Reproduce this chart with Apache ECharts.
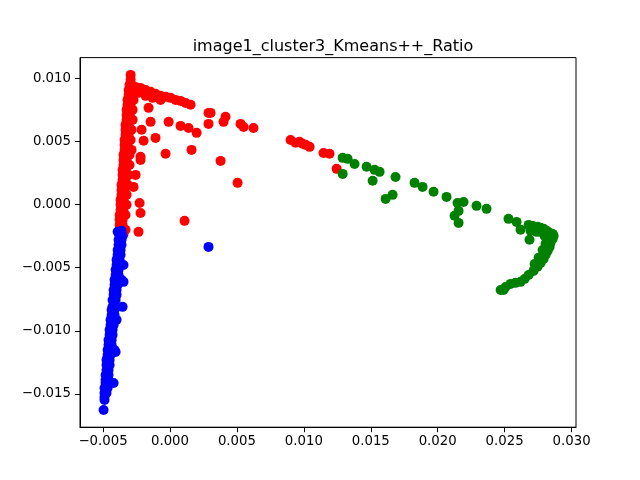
<!DOCTYPE html>
<html>
<head>
<meta charset="utf-8">
<script src="https://cdn.jsdelivr.net/npm/echarts@6/dist/echarts.min.js"></script>
<style>
  html, body { margin: 0; padding: 0; background: #fff; }
  #chart { width: 640px; height: 480px; }
</style>
</head>
<body>
<div id="chart"></div>
<script>
var chartTitle = 'image1_cluster3_Kmeans++_Ratio';

var xTicks = [-0.005, 0.000, 0.005, 0.010, 0.015, 0.020, 0.025, 0.030];
var yTicks = [-0.015, -0.010, -0.005, 0.000, 0.005, 0.010];

// cluster 0 (red)
var redPoints = [
    [-0.00294, 0.01027], [-0.00294, 0.00988], [-0.00302, 0.00948], [-0.00287, 0.00948],
    [-0.00309, 0.00908], [-0.00287, 0.00908], [-0.00264, 0.00908], [-0.00309, 0.00869],
    [-0.00287, 0.00869], [-0.00317, 0.00829], [-0.00294, 0.00829], [-0.00272, 0.00829],
    [-0.00317, 0.00790], [-0.00294, 0.00790], [-0.00324, 0.00750], [-0.00302, 0.00750],
    [-0.00279, 0.00750], [-0.00324, 0.00710], [-0.00302, 0.00710], [-0.00324, 0.00671],
    [-0.00302, 0.00671], [-0.00279, 0.00671], [-0.00332, 0.00631], [-0.00309, 0.00631],
    [-0.00332, 0.00592], [-0.00309, 0.00592], [-0.00287, 0.00592], [-0.00332, 0.00552],
    [-0.00309, 0.00552], [-0.00339, 0.00512], [-0.00317, 0.00512], [-0.00294, 0.00512],
    [-0.00339, 0.00473], [-0.00317, 0.00473], [-0.00339, 0.00433], [-0.00317, 0.00433],
    [-0.00287, 0.00433], [-0.00347, 0.00394], [-0.00324, 0.00394], [-0.00302, 0.00394],
    [-0.00347, 0.00354], [-0.00324, 0.00354], [-0.00347, 0.00314], [-0.00324, 0.00314],
    [-0.00302, 0.00314], [-0.00354, 0.00275], [-0.00332, 0.00275], [-0.00354, 0.00235],
    [-0.00332, 0.00235], [-0.00309, 0.00235], [-0.00354, 0.00196], [-0.00332, 0.00196],
    [-0.00362, 0.00156], [-0.00339, 0.00156], [-0.00317, 0.00156], [-0.00362, 0.00116],
    [-0.00339, 0.00116], [-0.00362, 0.00077], [-0.00339, 0.00077], [-0.00324, 0.00077],
    [-0.00369, 0.00037], [-0.00347, 0.00037], [-0.00369, -0.00002], [-0.00347, -0.00002],
    [-0.00324, -0.00002], [-0.00369, -0.00042], [-0.00347, -0.00042], [-0.00376, -0.00082],
    [-0.00354, -0.00082], [-0.00332, -0.00082], [-0.00376, -0.00121], [-0.00354, -0.00121],
    [-0.00376, -0.00161], [-0.00354, -0.00161], [-0.00376, -0.00200], [-0.00354, -0.00200],
    [-0.00332, -0.00200], [-0.00369, -0.00232], [-0.00347, -0.00232],
    // bumps on the right side of the column
    [-0.00220, 0.00378], [-0.00257, 0.00235], [-0.00227, 0.00013], [-0.00220, -0.00066],
    [-0.00235, -0.00216], [-0.00272, 0.00140], [-0.00220, 0.00354], [-0.00212, 0.00592],
    [-0.00197, 0.00505],
    // band going right from the top
    [-0.00257, 0.00932], [-0.00220, 0.00924], [-0.00182, 0.00908], [-0.00145, 0.00893],
    [-0.00108, 0.00877], [-0.00070, 0.00861], [-0.00033, 0.00853], [0.00004, 0.00845],
    [0.00042, 0.00829], [0.00079, 0.00821], [0.00117, 0.00805], [0.00154, 0.00790],
    [-0.00235, 0.00885], [-0.00182, 0.00861], [-0.00130, 0.00845], [-0.00070, 0.00829],
    // scattered
    [-0.00160, 0.00766], [-0.00145, 0.00655], [-0.00010, 0.00655], [0.00079, 0.00623],
    [0.00139, 0.00607], [0.00199, 0.00568], [0.00288, 0.00726], [0.00303, 0.00726],
    [0.00288, 0.00639], [0.00415, 0.00695], [0.00400, 0.00655], [0.00527, 0.00639],
    [0.00550, 0.00615], [0.00624, 0.00607], [-0.00108, 0.00528], [-0.00033, 0.00402],
    [0.00161, 0.00433], [0.00378, 0.00346], [0.00505, 0.00172], [0.00109, -0.00129],
    // far group
    [0.00901, 0.00512], [0.00938, 0.00489], [0.00968, 0.00497], [0.00991, 0.00481],
    [0.01013, 0.00473], [0.01043, 0.00457], [0.01147, 0.00409], [0.01192, 0.00402],
    [0.01245, 0.00283]
];

// cluster 1 (green)
var greenPoints = [
    [0.01290, 0.00370], [0.01327, 0.00362], [0.01379, 0.00322], [0.01469, 0.00299],
    [0.01529, 0.00275], [0.01566, 0.00259], [0.01290, 0.00243], [0.01514, 0.00188],
    [0.01685, 0.00219], [0.01611, 0.00045], [0.01663, 0.00077], [0.01827, 0.00172],
    [0.01887, 0.00140], [0.01969, 0.00101], [0.02066, 0.00061], [0.02148, 0.00013],
    [0.02193, 0.00021], [0.02156, -0.00050], [0.02126, -0.00089], [0.02156, -0.00145],
    [0.02290, -0.00010], [0.02365, -0.00034], [0.02529, -0.00113], [0.02589, -0.00137],
    [0.02619, -0.00200], [0.02686, -0.00279], [0.02679, -0.00161],
    [0.02709, -0.00168], [0.02746, -0.00176], [0.02769, -0.00184], [0.02791, -0.00192],
    [0.02814, -0.00208], [0.02836, -0.00224], [0.02858, -0.00232], [0.02866, -0.00248],
    [0.02858, -0.00272], [0.02843, -0.00303], [0.02836, -0.00335], [0.02821, -0.00367],
    [0.02806, -0.00398], [0.02791, -0.00430], [0.02769, -0.00462], [0.02746, -0.00493],
    [0.02716, -0.00525], [0.02679, -0.00557], [0.02649, -0.00589], [0.02619, -0.00612],
    [0.02581, -0.00620], [0.02544, -0.00628], [0.02507, -0.00652], [0.02470, -0.00676],
    [0.02492, -0.00676], [0.02799, -0.00248], [0.02769, -0.00216], [0.02806, -0.00311],
    [0.02784, -0.00359], [0.02754, -0.00422], [0.02724, -0.00470], [0.02739, -0.00216],
    [0.02694, -0.00208]
];

// cluster 2 (blue)
var bluePoints = [
    [-0.00391, -0.00216], [-0.00362, -0.00208],
    [-0.00376, -0.00248], [-0.00354, -0.00248], [-0.00384, -0.00279], [-0.00362, -0.00279],
    [-0.00384, -0.00319], [-0.00362, -0.00319], [-0.00391, -0.00359], [-0.00369, -0.00359],
    [-0.00391, -0.00398], [-0.00369, -0.00398], [-0.00399, -0.00438], [-0.00376, -0.00438],
    [-0.00399, -0.00478], [-0.00376, -0.00478], [-0.00347, -0.00478], [-0.00406, -0.00517],
    [-0.00384, -0.00517], [-0.00406, -0.00557], [-0.00384, -0.00557], [-0.00414, -0.00596],
    [-0.00391, -0.00596], [-0.00362, -0.00596], [-0.00347, -0.00612], [-0.00414, -0.00636],
    [-0.00391, -0.00636], [-0.00421, -0.00676], [-0.00399, -0.00676], [-0.00421, -0.00715],
    [-0.00399, -0.00715], [-0.00429, -0.00755], [-0.00406, -0.00755], [-0.00429, -0.00810],
    [-0.00406, -0.00810], [-0.00354, -0.00810], [-0.00436, -0.00834], [-0.00414, -0.00834],
    [-0.00436, -0.00874], [-0.00414, -0.00874], [-0.00444, -0.00913], [-0.00421, -0.00913],
    [-0.00399, -0.00913], [-0.00444, -0.00953], [-0.00421, -0.00953], [-0.00451, -0.00992],
    [-0.00429, -0.00992], [-0.00451, -0.01032], [-0.00429, -0.01032], [-0.00459, -0.01072],
    [-0.00436, -0.01072], [-0.00459, -0.01111], [-0.00436, -0.01111], [-0.00466, -0.01151],
    [-0.00444, -0.01151], [-0.00414, -0.01151], [-0.00406, -0.01167], [-0.00466, -0.01191],
    [-0.00444, -0.01191], [-0.00474, -0.01230], [-0.00451, -0.01230], [-0.00474, -0.01270],
    [-0.00451, -0.01270], [-0.00474, -0.01310], [-0.00459, -0.01310], [-0.00481, -0.01349],
    [-0.00459, -0.01349], [-0.00481, -0.01389], [-0.00459, -0.01389], [-0.00481, -0.01413],
    [-0.00459, -0.01413], [-0.00421, -0.01413], [-0.00489, -0.01452], [-0.00466, -0.01452],
    [-0.00489, -0.01492], [-0.00474, -0.01492], [-0.00489, -0.01523], [-0.00489, -0.01547],
    [-0.00496, -0.01626],
    // the lone one
    [0.00288, -0.00335]
];

function tickText(v) {
    return v.toFixed(3).replace('-', '\u2212');
}

var font = 'DejaVu Sans';

var option = {
    backgroundColor: '#ffffff',
    animation: false,
    title: {
        text: chartTitle,
        left: 328,
        top: 34,
        textAlign: 'center',
        textStyle: {
            fontFamily: font,
            fontSize: 16,
            fontWeight: 'normal',
            color: '#000'
        }
    },
    grid: {
        left: 80,
        right: 64,
        top: 57.6,
        bottom: 52.8,
        show: true,
        borderColor: '#000',
        borderWidth: 1,
        backgroundColor: '#fff'
    },
    xAxis: {
        type: 'value',
        min: -0.006722,
        max: 0.030332,
        splitLine: { show: false },
        axisLine: { show: true, onZero: false, lineStyle: { color: '#000', width: 1 } },
        axisTick: { show: true, inside: false, length: 5, customValues: xTicks, lineStyle: { color: '#000' } },
        axisLabel: {
            customValues: xTicks,
            formatter: tickText,
            margin: 8,
            fontFamily: font,
            fontSize: 13.3,
            color: '#000'
        }
    },
    yAxis: {
        type: 'value',
        min: -0.017629,
        max: 0.011639,
        splitLine: { show: false },
        axisLine: { show: true, onZero: false, lineStyle: { color: '#000', width: 1 } },
        axisTick: { show: true, inside: false, length: 5, customValues: yTicks, lineStyle: { color: '#000' } },
        axisLabel: {
            customValues: yTicks,
            formatter: tickText,
            margin: 9,
            fontFamily: font,
            fontSize: 13.3,
            color: '#000'
        }
    },
    series: [
        { type: 'scatter', data: redPoints, symbolSize: 10, itemStyle: { color: '#ff0000', opacity: 1 } },
        { type: 'scatter', data: greenPoints, symbolSize: 10, itemStyle: { color: '#008000', opacity: 1 } },
        { type: 'scatter', data: bluePoints, symbolSize: 10, itemStyle: { color: '#0000ff', opacity: 1 } }
    ]
};

var myChart = echarts.init(document.getElementById('chart'));
myChart.setOption(option);
</script>
</body>
</html>
